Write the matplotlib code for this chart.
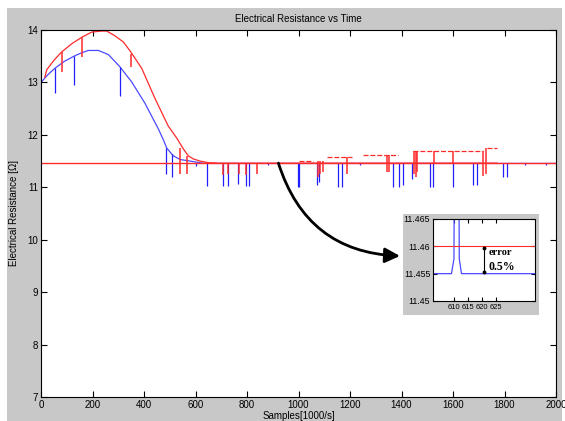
import matplotlib
matplotlib.use("Agg")
import matplotlib.pyplot as plt
from matplotlib.patches import Rectangle

plt.rcParams['font.family'] = ['Liberation Sans', 'DejaVu Sans']

# main curves (sample, resistance)
blue_x = [0, 0, 25, 54, 90, 132, 160, 184, 223, 262, 306, 352, 404, 456, 474, 488, 514, 540, 579, 629, 660, 2000]
blue_y = [7.0, 13.0, 13.14, 13.27, 13.4, 13.51, 13.57, 13.61, 13.61, 13.53, 13.3, 13.01, 12.6, 12.11, 11.92,
          11.75, 11.6, 11.53, 11.5, 11.46, 11.455, 11.455]
red_x = [15, 22, 50, 80, 120, 158, 197, 236, 255, 287, 320, 346, 391, 443, 494, 527, 553, 572, 592, 618, 650,
         690, 1771]
red_y = [13.1, 13.24, 13.42, 13.58, 13.74, 13.86, 13.96, 13.98, 13.98, 13.89, 13.77, 13.6, 13.27, 12.69,
         12.17, 11.94, 11.73, 11.6, 11.54, 11.5, 11.47, 11.46, 11.46]
reference_level = 11.46

# spikes: position, bottom, top
blue_spike_x = [54, 129, 306, 486, 507, 600, 646, 707, 725, 766, 795, 806, 880, 998, 1002, 1072, 1080,
                1153, 1169, 1240, 1367, 1390, 1406, 1441, 1511, 1522, 1600, 1678, 1693, 1794, 1810, 1880, 1960]
blue_spike_lo = [12.79, 12.95, 12.75, 11.26, 11.19, 11.4, 11.03, 11.03, 11.03, 11.06, 11.03, 11.03, 11.42,
                 11.0, 11.0, 11.05, 11.1, 11.0, 11.0, 11.42, 11.0, 11.0, 11.05, 11.15, 11.0, 11.0, 11.0,
                 11.05, 11.05, 11.2, 11.2, 11.43, 11.42]
blue_spike_hi = [13.27, 13.51, 13.3, 11.75, 11.63, 11.465, 11.455, 11.455, 11.455, 11.455, 11.455, 11.455,
                 11.455, 11.455, 11.455, 11.455, 11.455, 11.455, 11.455, 11.455, 11.455, 11.455, 11.455,
                 11.455, 11.455, 11.455, 11.455, 11.455, 11.455, 11.455, 11.455, 11.455, 11.455]

red_spike_x = [80, 158, 350, 540, 566, 707, 725, 768, 795, 837, 1075, 1085, 1095, 1188, 1345, 1352,
               1447, 1455, 1460, 1526, 1600, 1718, 1728]
red_spike_lo = [13.2, 13.48, 13.29, 11.26, 11.26, 11.24, 11.25, 11.25, 11.24, 11.25, 11.2, 11.25,
                11.3, 11.25, 11.3, 11.3, 11.25, 11.2, 11.3, 11.45, 11.45, 11.22, 11.25]
red_spike_hi = [13.58, 13.86, 13.55, 11.75, 11.6, 11.47, 11.47, 11.47, 11.47, 11.47, 11.51, 11.51,
                11.51, 11.57, 11.61, 11.61, 11.69, 11.69, 11.69, 11.69, 11.69, 11.69, 11.74]

# drifting upper red level segments
drift_start = [1002, 1110, 1250, 1445, 1732]
drift_end = [1056, 1208, 1387, 1716, 1771]
drift_level = [11.51, 11.57, 11.61, 11.69, 11.74]

# zoomed detail
zoom_x = [602, 609.1, 610.0, 610.1, 611.8, 611.9, 612.7, 640]
zoom_y = [11.455, 11.455, 11.4577, 11.47, 11.47, 11.4577, 11.455, 11.455]
zoom_ref = 11.46

BLUE = '#4a4aff'
RED = '#ff2a2a'
GRAY = '#c8c8c8'

fig = plt.figure(figsize=(5.65, 4.21), dpi=100)
fig.patch.set_facecolor('white')
fig.patches.append(Rectangle((7 / 565, 0), 555 / 565, 413 / 421, transform=fig.transFigure,
                             facecolor=GRAY, edgecolor='none', zorder=-10))

ax = fig.add_axes([41 / 565, 24 / 421, 515 / 565, 367 / 421])
ax.plot(blue_x, blue_y, color=BLUE, lw=0.9)
ax.vlines(blue_spike_x, blue_spike_lo, blue_spike_hi, color='#2020ff', lw=0.9)
ax.plot(red_x, red_y, color=RED, lw=0.9)
ax.vlines(red_spike_x, red_spike_lo, red_spike_hi, color=RED, lw=1.1)
ax.hlines(drift_level, drift_start, drift_end, color=RED, lw=0.9, linestyles=(0, (4, 1.5)))
ax.axhline(reference_level, color=RED, lw=1.0)

ax.set_xlim(0, 2000)
ax.set_ylim(7, 14)
ax.set_xticks(range(0, 2001, 200))
ax.set_yticks(range(7, 15))
ax.tick_params(direction='in', top=True, right=True, labelsize=7, length=4, pad=2)
for s in ax.spines.values():
    s.set_linewidth(0.8)
ax.set_title('Electrical Resistance vs Time', fontsize=7, pad=6)
ax.set_xlabel('Samples[1000/s]', fontsize=7, labelpad=1)
ax.set_ylabel('Electrical Resistance [\u03a9]', fontsize=7, labelpad=6)

ax.annotate('', xy=(1394, 9.69), xytext=(922, 11.46),
            arrowprops=dict(arrowstyle='-|>,head_length=0.9,head_width=0.45', color='black', lw=2,
                            connectionstyle='arc3,rad=0.35', shrinkA=0, shrinkB=0))

# inset with gray panel
fig.patches.append(Rectangle((403 / 565, 106 / 421), 136 / 565, 101 / 421, transform=fig.transFigure,
                             facecolor=GRAY, edgecolor='none', zorder=5))
ins = fig.add_axes([433 / 565, 120 / 421, 102 / 565, 82 / 421], zorder=6)
ins.plot(zoom_x, zoom_y, color=BLUE, lw=0.9)
ins.axhline(zoom_ref, color=RED, lw=0.8)
ins.set_xlim(602.5, 639)
ins.set_ylim(11.45, 11.465)
ins.set_xticks([610, 615, 620, 625])
ins.set_yticks([11.45, 11.455, 11.46, 11.465])
ins.set_yticklabels(['11.45', '11.455', '11.46', '11.465'])
ins.tick_params(direction='in', top=True, right=True, length=3, pad=2)
ins.tick_params(axis='x', labelsize=5.4)
ins.tick_params(axis='y', labelsize=6.3)
ins.plot([620.8, 620.8], [11.4553, 11.4597], color='black', lw=0.8, marker='o', markersize=1.8)
ins.text(622.5, 11.4588, 'error', fontsize=7.5, fontweight='bold', family='Liberation Serif', va='center')
ins.text(622.5, 11.4563, '0.5%', fontsize=8.5, fontweight='bold', family='Liberation Serif', va='center')

fig.savefig('out.png', dpi=100)
